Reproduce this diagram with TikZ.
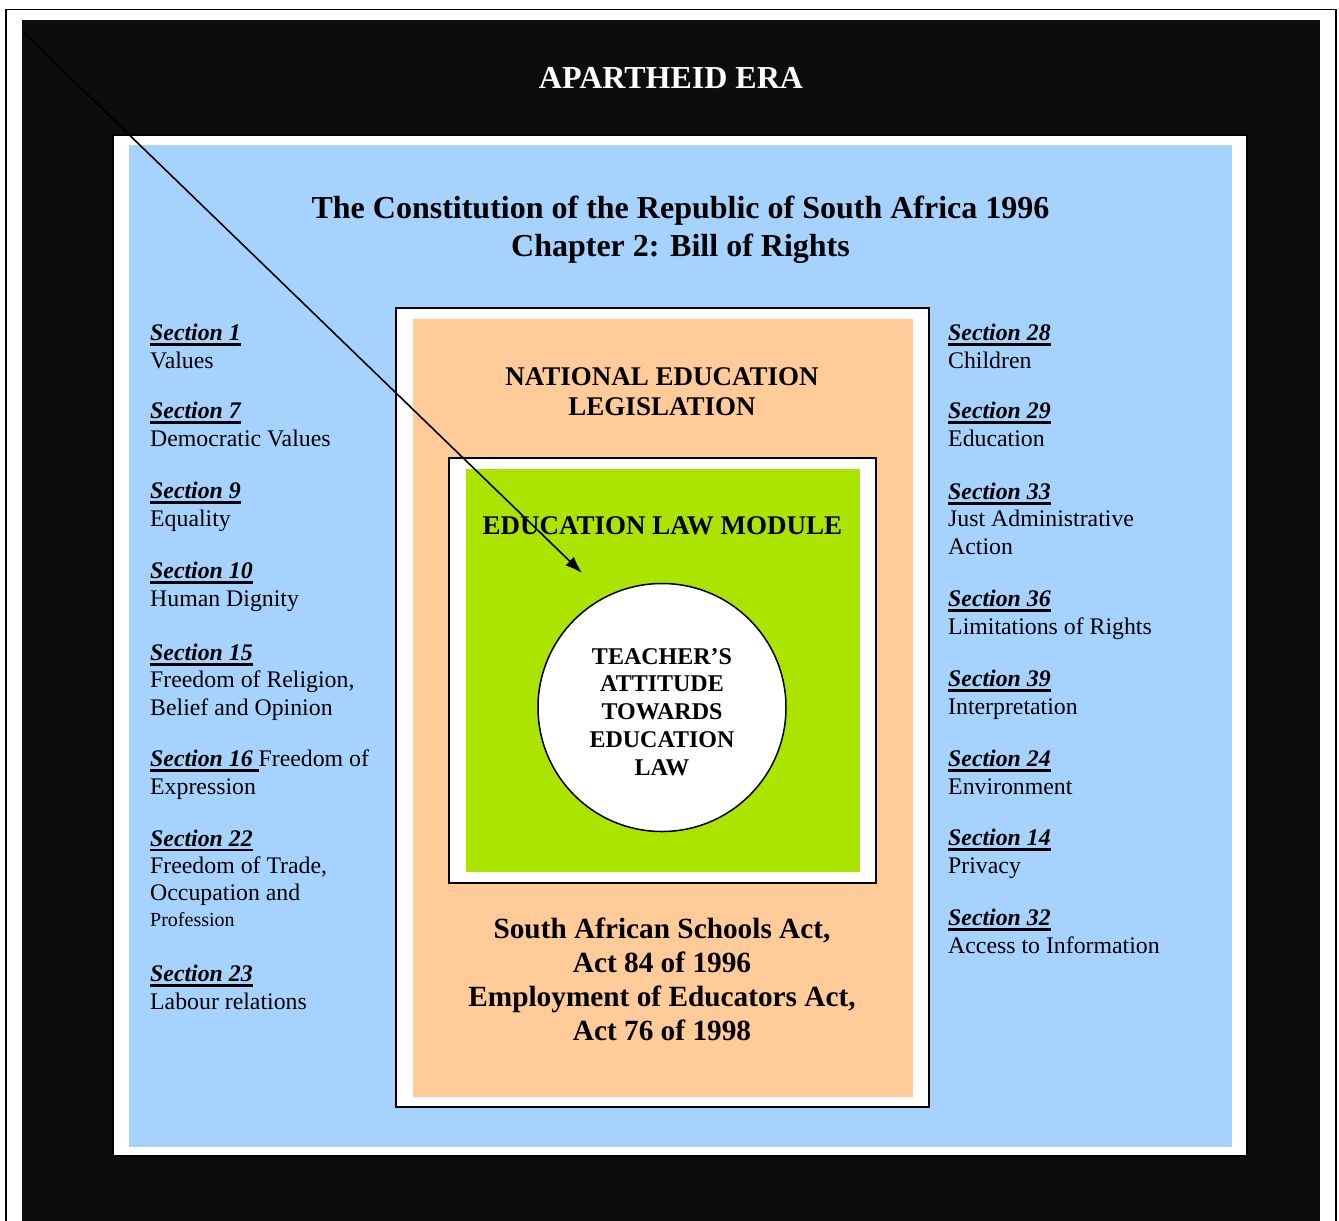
\documentclass[tikz,border=0pt]{standalone}
\usepackage{fontspec}
\setmainfont{Liberation Serif}
\usetikzlibrary{arrows.meta}

\definecolor{eraback}{RGB}{13,13,13}
\definecolor{rightsblue}{RGB}{166,210,254}
\definecolor{lawpeach}{RGB}{255,204,153}
\definecolor{modulegreen}{RGB}{170,228,0}

\newsavebox\secbox
\newcommand\secthead[1]{\sbox\secbox{\bfseries\itshape #1}\rlap{\rule[-5pt]{\wd\secbox}{2.5pt}}\usebox\secbox}
\def\sectsize{\fontsize{23.8}{27.2}\selectfont}

% y = baseline of the last line of each group
\def\leftlist{368/1/\\Values, 446/7/\\Democratic Values, 526/9/\\Equality, 606/10/\\Human Dignity,
  715/15/\\Freedom of Religion{,}\\Belief and Opinion, 794/16\ /Freedom of\\Expression,
  926/22/\\Freedom of Trade{,}\\Occupation and\\[-2pt]{\fontsize{20}{24}\selectfont Profession},
  1009/23/\\Labour relations}
\def\rightlist{368/28/\\Children, 446/29/\\Education, 554/33/\\Just Administrative\\Action,
  634/36/\\Limitations of Rights, 714/39/\\Interpretation, 794/24/\\Environment,
  873/14/\\Privacy, 953/32/\\Access to Information}

\tikzstyle{band} = [draw=black, line width=1.5pt]
\tikzstyle{section-text}=[anchor=base west, inner sep=0pt, align=left, font=\sectsize]
\tikzstyle{heading}=[anchor=base, inner sep=0pt, align=center]
\tikzstyle{pointer}=[draw, line width=1.6pt, -{Latex[length=17pt,width=12pt]}]

\begin{document}
\begin{tikzpicture}[x=1pt, y=-1pt]
  \useasboundingbox (0,0) rectangle (1339,1221);
  \clip (0,0) rectangle (1339,1221);

  \draw[line width=1.5pt] (6,9.5) rectangle (1336,1240);
  \fill[eraback] (22,20) rectangle (1320,1240);
  \draw[band, fill=white] (113,135) rectangle (1247,1156);
  \fill[rightsblue] (129,145) rectangle (1232,1147);
  \draw[band, fill=white] (396,308) rectangle (929,1107);
  \fill[lawpeach] (413,319) rectangle (913,1097);
  \draw[band, fill=white] (449,458) rectangle (876,883);
  \fill[modulegreen] (466,469) rectangle (860,872);
  \node[circle, band, fill=white, minimum size=248pt, inner sep=0pt] (attitude) at (662,707.5) {};

  \node[heading, text=white, font=\fontsize{32}{36}\selectfont\bfseries] (era-title) at (671,88) {APARTHEID ERA};
  \node[heading, font=\fontsize{32}{38}\selectfont\bfseries] (bill-title) at (680.5,256)
    {The Constitution of the Republic of South Africa 1996\\Chapter 2: Bill of Rights};
  \node[heading, font=\fontsize{27}{30}\selectfont\bfseries] (legis-title) at (662,415) {NATIONAL EDUCATION\\LEGISLATION};
  \node[heading, font=\fontsize{27}{30}\selectfont\bfseries] (module-title) at (662.5,534) {EDUCATION LAW MODULE};
  \node[heading, font=\fontsize{24}{27.7}\selectfont\bfseries] (attitude-text) at (662,775)
    {TEACHER’S\\ATTITUDE\\TOWARDS\\EDUCATION\\LAW};
  \node[heading, font=\fontsize{29.3}{33.7}\selectfont\bfseries] (acts-text) at (662,1040)
    {South African Schools Act,\\Act 84 of 1996\\Employment of Educators Act,\\Act 76 of 1998};

  \foreach \y/\n/\rest [count=\i] in \leftlist {
    \node[section-text] (lsec\i) at (150,\y) {\secthead{Section \n}\rest};
  }
  \foreach \y/\n/\rest [count=\i] in \rightlist {
    \node[section-text] (rsec\i) at (948,\y) {\secthead{Section \n}\rest};
  }

  \coordinate (corner) at (23,32);
  \coordinate (aim) at (582,573);
  \path[pointer] (corner) -- (aim);
\end{tikzpicture}
\end{document}
